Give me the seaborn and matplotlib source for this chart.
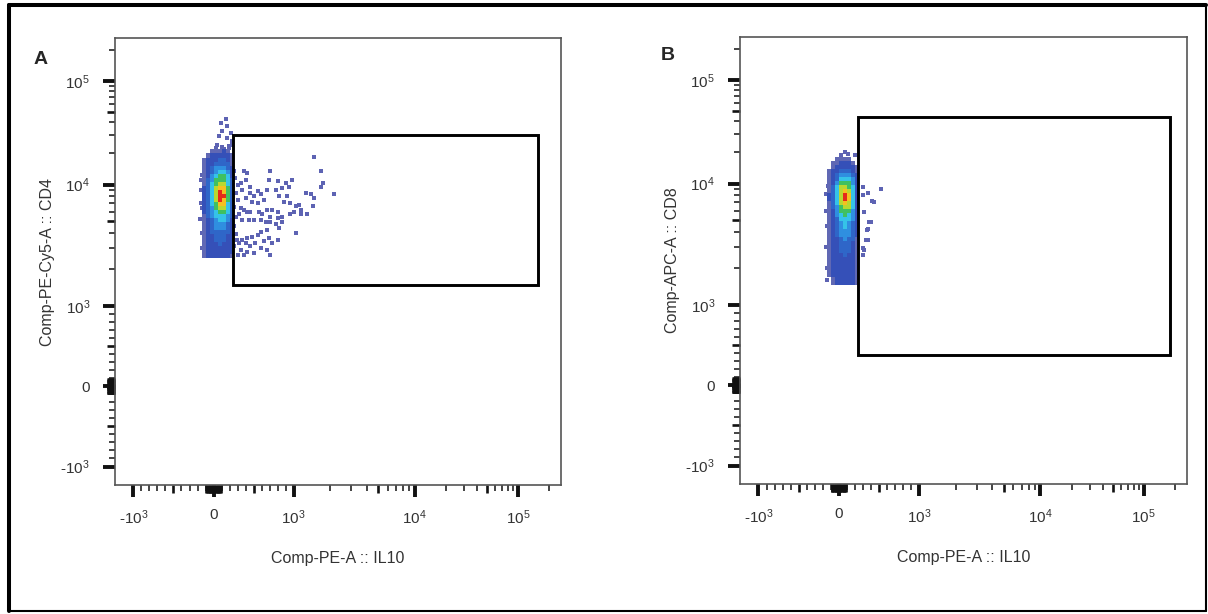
import numpy as np
import matplotlib
matplotlib.use("Agg")
import matplotlib.pyplot as plt
from matplotlib.colors import ListedColormap
from matplotlib.patches import Rectangle
from matplotlib.lines import Line2D
import seaborn as sns

# ---- values ----
PANEL_LETTERS = ["A", "B"]
X_LABELS = ["Comp-PE-A :: IL10", "Comp-PE-A :: IL10"]
Y_LABELS = ["Comp-PE-Cy5-A :: CD4", "Comp-APC-A :: CD8"]

AXIS_MIN = -1420
AXIS_MAX = 262144

# gates: x0, x1, y0, y1
GATE_A = [240, 156000, 1490, 30000]
GATE_B = [240, 179000, 375, 43700]

# main population as a density grid on 4-channel cells (0 empty .. 9 peak),
# rows listed from the top down
CELL = 4
CORE_LEFT = -12
CORE_A_TOP = 236
CORE_A = [
    "00111210", "01222221", "12223321", "12233331", "12344432",
    "12345542", "12456652", "13466653", "13567753", "23578863",
    "23579863", "23579963", "23579863", "23568853", "23467753",
    "23456653", "13455543", "12345542", "12344432", "12344432",
    "12333332", "12233322", "12233322", "12223222", "12222222",
    "12222222", "12222221",
]
CORE_B_TOP = 228
CORE_B = [
    "00111100", "01122210", "01222221", "12233321", "12344432",
    "12355542", "12466642", "13577652", "13578752", "23579852",
    "23579852", "13578752", "13467752", "12466642", "12456542",
    "12355542", "12345432", "12345432", "12344432", "12344432",
    "12234331", "12233321", "12233321", "12233321", "12223221",
    "12222221", "12222221", "12222221", "12222221", "12222221",
    "01222221", "01222221",
]

# single events outside the dense core
SPARSE_A_X = [380, 420, 400, 340, 300, 460, 360, 280, 300, 400,
              460, 500, 550, 590, 480, 550, 630, 670, 710, 690,
              800, 780, 820, 860, 900, 940, 980, 920, 880, 960,
              1040, 1100, 1140, 1000, 960, 860, 800, 730, 670, 610,
              570, 460, 420, 380, 340, 320, 360, 440, 500, 590,
              650, 710, 780, 820, 860, 800, 710, 670, 590, 550,
              480, 420, 360, 320, 400, 460, 520, 630, 690, 730,
              800, 710, 670, 590, 500, 420, 340, 300, 380, 1260,
              1380, 1460, 1440, 1300, 1140, 1040, 1670, 1740, 1670, 2140,
              1460, 255, 262, 255, 275, 255, 275, 255, 290,
              150, 88, 171, 108, 212, 66, 171, 233, 46, 191, 129,
              -150, -121, -121, -100,
              -160, -155, -165, -150, -140, -160, -140,
              30, 110, 190, 230]
SPARSE_A_Y = [13400, 13000, 11200, 10400, 9900, 9600, 9000, 8500, 7500, 7800,
              8500, 8000, 8800, 8300, 7200, 7100, 7500, 9000, 13400, 11200,
              10800, 9000, 8000, 9400, 10400, 9600, 11200, 8000, 7200, 7100,
              6600, 6800, 6200, 5900, 5700, 5400, 5900, 6200, 6200, 5700,
              6000, 5900, 6000, 6200, 6400, 5700, 5100, 5100, 5100, 5100,
              4900, 4950, 4700, 4400, 4900, 5300, 5400, 4250, 4100, 3850,
              3700, 3650, 3500, 3300, 3300, 3100, 3300, 3400, 3650, 3300,
              3500, 2650, 2900, 3000, 2750, 2800, 2900, 2650, 2650, 8500,
              8300, 7800, 6600, 5700, 5700, 4000, 13400, 10400, 9600, 8400,
              18300, 13600, 11600, 6550, 5400, 4520, 3920, 3100, 3500,
              43400, 39700, 36800, 32900, 31800, 29400, 28400, 26300, 24400, 23600, 21900,
              6400, 4700, 3500, 2750,
              9000, 7000, 5200, 4000, 3000, 11000, 12500,
              22500, 23000, 22800, 24000]
SPARSE_B_X = [525, 440, 400, 360, 360, 310, 300, 296, 420, 380,
              350, 340, 360, 316, 308, 296, -154, -121, -141, -100,
              -160, -150, -165, -150, -140, 30, 120, 200, 80]
SPARSE_B_Y = [9090, 7100, 4850, 4250, 3450, 2850, 2590, 9440, 7190, 4850,
              4140, 3430, 8320, 5870, 2920, 8070, 8220, 3880, 1600, 2195,
              6000, 4500, 3000, 2000, 9500, 19000, 19500, 18800, 20000]

DENSITY_COLORS = ["#6068b4", "#3550b8", "#2f66c8", "#2f8fe0", "#35c3e8",
                  "#3fc060", "#b8d830", "#f5c020", "#e52a1a"]
SPARSE_COLOR = "#5d63b3"

MAJOR_LABELS = {-1000: "-$\\mathregular{10^3}$", 0: "0",
                1000: "$\\mathregular{10^3}$", 10000: "$\\mathregular{10^4}$",
                100000: "$\\mathregular{10^5}$"}


# biexponential-like display: linear around zero, log above 10^3
def to_channel(v):
    v = np.asarray(v, dtype=float)
    a = np.abs(v)
    d = np.log10(np.maximum(a, 1000.0)) - 3
    c = np.where(a <= 1000, a * 0.08, 80 + 121 * np.minimum(d, 1) + 103 * np.maximum(d - 1, 0))
    return np.sign(v) * c


def from_channel(c):
    c = np.asarray(c, dtype=float)
    a = np.abs(c)
    d = np.where(a <= 201, (a - 80) / 121, 1 + (a - 201) / 103)
    v = np.where(a <= 80, a / 0.08, 10 ** (3 + d))
    return np.sign(c) * v


def core_mesh(rows, top):
    levels = np.array([[int(ch) for ch in r] for r in rows], dtype=float)
    n_rows, n_cols = levels.shape
    x_edges = from_channel(CORE_LEFT + CELL * np.arange(n_cols + 1))
    y_edges = from_channel(top - CELL * np.arange(n_rows + 1))
    return x_edges, y_edges, np.ma.masked_less_equal(levels, 0)


TICK_VALUES = sorted({s * k * 10 ** n for s in (-1, 1) for n in range(6) for k in range(1, 10)} | {0})
TICK_VALUES = [v for v in TICK_VALUES if AXIS_MIN <= v <= AXIS_MAX]


def style_axis(axis):
    labels = [MAJOR_LABELS.get(v, "") for v in TICK_VALUES]
    axis.set_ticks(TICK_VALUES, labels=labels)
    ticks = axis.get_major_ticks(len(TICK_VALUES))
    for t, v in zip(ticks, TICK_VALUES):
        if v in MAJOR_LABELS:
            size, width = 8.5, 2.8
        elif str(abs(v))[0] == "5" or abs(v) < 100:
            size, width = 6.0, 1.9
        else:
            size, width = 4.0, 1.1
        t.tick1line.set_markersize(size)
        t.tick1line.set_markeredgewidth(width)


def draw_panel(ax, core_rows, core_top, sx, sy, gate, xlabel, ylabel):
    ax.set_xscale("function", functions=(to_channel, from_channel))
    ax.set_yscale("function", functions=(to_channel, from_channel))

    sns.scatterplot(x=sx, y=sy, marker="s", s=5, color=SPARSE_COLOR,
                    linewidth=0, ax=ax)
    xe, ye, levels = core_mesh(core_rows, core_top)
    ax.pcolormesh(xe, ye, levels, cmap=DENSITY_CMAP, vmin=0.5, vmax=9.5,
                  shading="flat", zorder=2)

    ax.add_patch(Rectangle((gate[0], gate[2]), gate[1] - gate[0], gate[3] - gate[2],
                           fill=False, ec="black", lw=2.1, zorder=5))

    ax.set_xlim(AXIS_MIN, AXIS_MAX)
    ax.set_ylim(AXIS_MIN, AXIS_MAX)

    ax.tick_params(axis="both", which="major", bottom=True, left=True, top=False,
                   right=False, direction="out", length=8.5, color="#111111",
                   labelsize=11, labelcolor="#333333")
    ax.tick_params(axis="x", pad=8)
    ax.tick_params(axis="y", pad=9.5)
    ax.tick_params(axis="both", which="minor", bottom=False, left=False)
    style_axis(ax.xaxis)
    style_axis(ax.yaxis)

    for sp in ax.spines.values():
        sp.set_color("#555555")
        sp.set_linewidth(1.2)

    ax.set_xlabel(xlabel, fontsize=11.5, color="#333333")
    ax.set_ylabel(ylabel, fontsize=11.5, color="#333333")
    ax.xaxis.set_label_coords(0.5, -0.148)
    ax.yaxis.set_label_coords(-0.135, 0.5)


sns.set_theme(style="white")
plt.rcParams["font.family"] = ["Liberation Sans", "DejaVu Sans"]

DENSITY_CMAP = ListedColormap(DENSITY_COLORS)

fig = plt.figure(figsize=(12.08, 6.14), dpi=100)
ax_a = fig.add_axes([115 / 1208, 1 - 485 / 614, 446 / 1208, 447 / 614])
ax_b = fig.add_axes([740 / 1208, 1 - 484 / 614, 447 / 1208, 447 / 614])

draw_panel(ax_a, CORE_A, CORE_A_TOP, SPARSE_A_X, SPARSE_A_Y, GATE_A, X_LABELS[0], Y_LABELS[0])
draw_panel(ax_b, CORE_B, CORE_B_TOP, SPARSE_B_X, SPARSE_B_Y, GATE_B, X_LABELS[1], Y_LABELS[1])

fig.text(41 / 1208, 1 - 60 / 614, PANEL_LETTERS[0], fontsize=14, fontweight="bold",
         ha="center", va="center")
fig.text(668 / 1208, 1 - 56 / 614, PANEL_LETTERS[1], fontsize=14, fontweight="bold",
         ha="center", va="center")

# outer frame round the whole figure
for (x0, y0, x1, y1, lw) in [(9, 5, 9, 611, 2.9), (9, 5, 1206, 5, 2.9),
                             (1206, 5, 1206, 611, 1.5), (9, 611, 1206, 611, 1.5)]:
    fig.add_artist(Line2D([x0 / 1208, x1 / 1208], [1 - y0 / 614, 1 - y1 / 614],
                          transform=fig.transFigure, color="black", lw=lw))

fig.savefig("out.png", dpi=100)
